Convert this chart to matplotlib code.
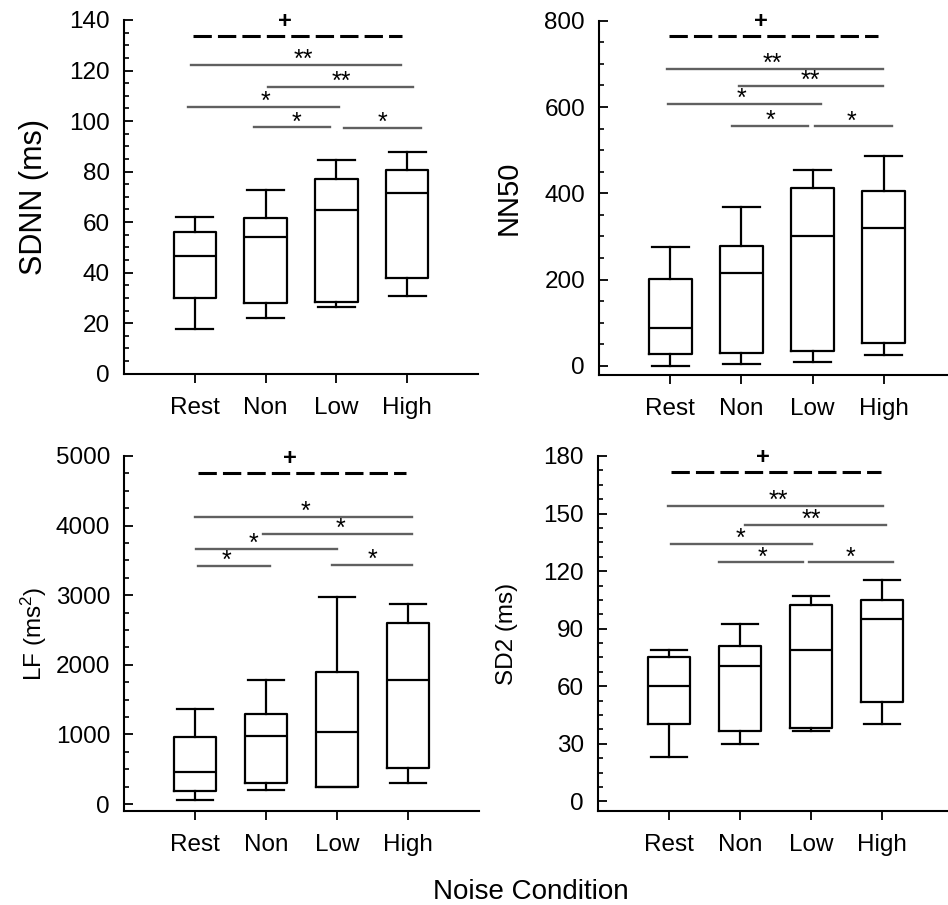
import matplotlib
matplotlib.use("Agg")
import matplotlib.pyplot as plt
from matplotlib.ticker import MultipleLocator

plt.rcParams['font.family'] = ['Liberation Sans', 'DejaVu Sans']
plt.rcParams['mathtext.default'] = 'regular'

conditions = ["Rest", "Non", "Low", "High"]

# box statistics: whisker low, Q1, median, Q3, whisker high
sdnn_lo = [17.7, 21.9, 26.5, 30.7]
sdnn_q1 = [29.9, 27.8, 28.3, 38.0]
sdnn_med = [46.7, 54.0, 64.9, 71.6]
sdnn_q3 = [56.0, 61.7, 77.2, 80.5]
sdnn_hi = [62.0, 72.6, 84.5, 87.9]

nn50_lo = [0, 4.6, 8.5, 25.5]
nn50_q1 = [28.6, 30.9, 34.0, 52.5]
nn50_med = [87.3, 214.7, 301.2, 318.9]
nn50_q3 = [201.5, 277.2, 412.4, 406.2]
nn50_hi = [276.4, 368.3, 454.8, 487.3]

lf_lo = [57, 201, 245, 306]
lf_q1 = [187, 306, 249, 522]
lf_med = [455, 971, 1033, 1775]
lf_q3 = [957, 1297, 1895, 2608]
lf_hi = [1364, 1780, 2971, 2871]

sd2_lo = [23.4, 30.0, 36.5, 40.4]
sd2_q1 = [40.3, 36.6, 38.0, 51.7]
sd2_med = [60.2, 70.6, 78.8, 94.9]
sd2_q3 = [75.3, 81.2, 102.1, 105.2]
sd2_hi = [78.8, 92.2, 107.1, 115.3]

# significance bars: (x start, x end, y, label, label x)
sdnn_trend = (0.97, 3.93, 133.7, 2.27)
sdnn_sig = [(0.95, 3.91, 122.1, '**', 2.53),
            (2.03, 4.08, 113.4, '**', 3.07),
            (0.91, 3.04, 105.5, '*', 2.0),
            (1.84, 2.91, 97.5, '*', 2.43),
            (3.11, 4.19, 97.4, '*', 3.65)]

nn50_trend = (0.99, 3.92, 764.5, 2.28)
nn50_sig = [(0.96, 3.99, 688, '**', 2.43),
            (1.97, 3.99, 648.6, '**', 2.97),
            (0.97, 3.12, 607.7, '*', 2.0),
            (1.87, 2.94, 556, '*', 2.41),
            (3.04, 4.11, 555, '*', 3.55)]

lf_trend = (1.04, 3.97, 4751, 2.34)
lf_sig = [(1.0, 4.05, 4120, '*', 2.56),
          (1.96, 4.06, 3885, '*', 3.05),
          (1.02, 3.0, 3665, '*', 1.82),
          (1.04, 2.05, 3426, '*', 1.44),
          (2.93, 4.06, 3431, '*', 3.5)]

sd2_trend = (1.03, 3.99, 171.7, 2.33)
sd2_sig = [(0.99, 4.01, 154.1, '**', 2.54),
           (2.07, 4.05, 144.1, '**', 3.0),
           (1.03, 3.02, 134.0, '*', 2.0),
           (1.70, 2.89, 124.5, '*', 2.31),
           (2.97, 4.16, 124.5, '*', 3.56)]

W, H = 948, 905
fig = plt.figure(figsize=(W / 100, H / 100), dpi=100)


def make_axes(left, top, bottom, width=355):
    return fig.add_axes([left / W, 1 - bottom / H, width / W, (bottom - top) / H])


def panel(ax, lo, q1, med, q3, hi, ylabel, ylim, major, minor, trend, sig, lab_size):
    stats = []
    for i in range(len(conditions)):
        stats.append(dict(whislo=lo[i], q1=q1[i], med=med[i], q3=q3[i], whishi=hi[i], fliers=[]))
    lw = 1.6
    ax.bxp(stats, positions=range(1, 5), widths=0.6, capwidths=0.52, showfliers=False,
           boxprops=dict(color='black', lw=lw), medianprops=dict(color='black', lw=lw),
           whiskerprops=dict(color='black', lw=lw), capprops=dict(color='black', lw=lw))

    ax.set_xlim(0, 5)
    ax.set_ylim(*ylim)
    ax.set_xticks(range(1, 5))
    ax.set_xticklabels(conditions)
    ax.yaxis.set_major_locator(MultipleLocator(major))
    ax.yaxis.set_minor_locator(MultipleLocator(minor))
    for s in ['top', 'right']:
        ax.spines[s].set_visible(False)
    for s in ['left', 'bottom']:
        ax.spines[s].set_linewidth(1.5)
    ax.tick_params(axis='y', which='major', direction='in', length=6.7, width=1.3,
                   labelsize=17.5, pad=10)
    ax.tick_params(axis='y', which='minor', direction='in', length=3.8, width=1.2)
    ax.tick_params(axis='x', which='major', direction='out', length=6.5, width=1.3,
                   labelsize=17.5, pad=10)
    ax.text(-0.255, 0.5, ylabel, transform=ax.transAxes, rotation=90,
            ha='center', va='center', fontsize=lab_size)

    x1, x2, y, tx = trend
    ax.plot([x1, x2], [y, y], color='black', lw=2.2, ls=(0, (6, 2)), clip_on=False)
    ax.annotate('+', xy=(tx, y), xytext=(0, 6), textcoords='offset points',
                ha='center', va='baseline', fontsize=17, fontweight='bold')
    for x1, x2, y, lab, tx in sig:
        ax.plot([x1, x2], [y, y], color='#606060', lw=1.7, clip_on=False)
        ax.annotate(lab, xy=(tx, y), xytext=(0, -1.5), textcoords='offset points',
                    ha='center', va='baseline', fontsize=18)


ax1 = make_axes(124, 20, 373.7, 354)
panel(ax1, sdnn_lo, sdnn_q1, sdnn_med, sdnn_q3, sdnn_hi, 'SDNN (ms)', (0, 140), 20, 5,
      sdnn_trend, sdnn_sig, 22)

ax2 = make_axes(599, 20.7, 375, 356)
panel(ax2, nn50_lo, nn50_q1, nn50_med, nn50_q3, nn50_hi, 'NN50', (-21, 800), 200, 50,
      nn50_trend, nn50_sig, 21)

ax3 = make_axes(124, 456, 811)
panel(ax3, lf_lo, lf_q1, lf_med, lf_q3, lf_hi, 'LF (ms$^{2}$)', (-100, 5000), 1000, 250,
      lf_trend, lf_sig, 17.5)

ax4 = make_axes(598, 456, 811)
panel(ax4, sd2_lo, sd2_q1, sd2_med, sd2_q3, sd2_hi, 'SD2 (ms)', (-5, 180), 30, 7.5,
      sd2_trend, sd2_sig, 17.5)

fig.text(531 / W, 1 - 892 / H, 'Noise Condition', ha='center', va='center', fontsize=20)

fig.savefig('out.png', dpi=100)
